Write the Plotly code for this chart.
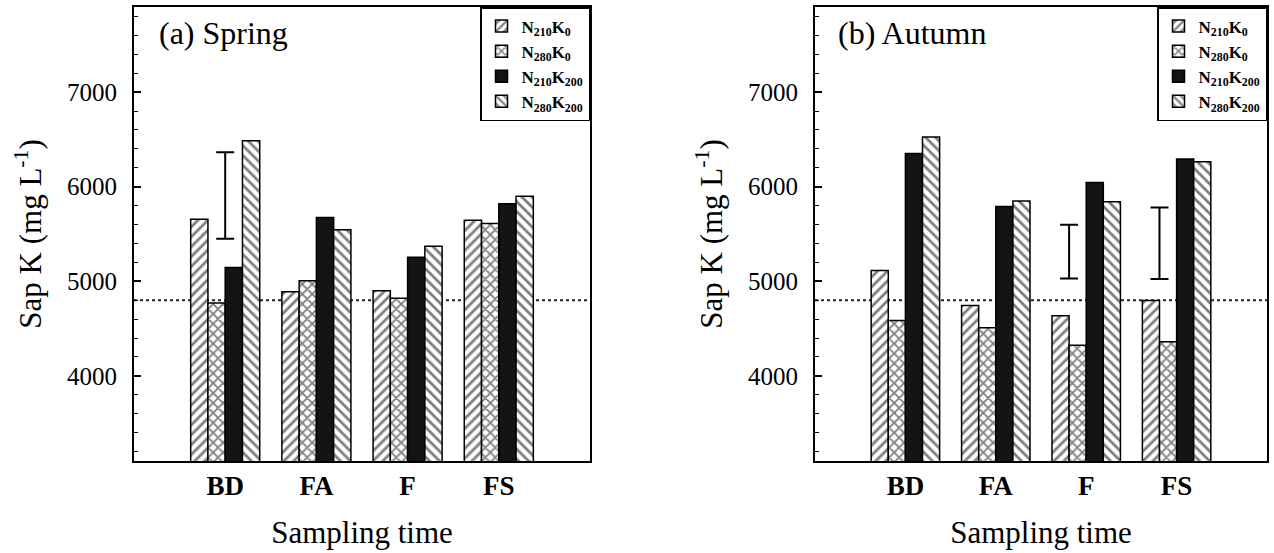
import plotly.graph_objects as go

# ---------------- data ----------------
categories = ["BD", "FA", "F", "FS"]
series_names = [
    "N<sub>210</sub>K<sub>0</sub>",
    "N<sub>280</sub>K<sub>0</sub>",
    "N<sub>210</sub>K<sub>200</sub>",
    "N<sub>280</sub>K<sub>200</sub>",
]

spring_n210k0 = [5655, 4890, 4900, 5645]
spring_n280k0 = [4770, 5005, 4820, 5610]
spring_n210k200 = [5145, 5675, 5255, 5820]
spring_n280k200 = [6485, 5545, 5370, 5900]

autumn_n210k0 = [5115, 4745, 4637, 4797]
autumn_n280k0 = [4585, 4508, 4323, 4360]
autumn_n210k200 = [6350, 5790, 6045, 6292]
autumn_n280k200 = [6525, 5850, 5842, 6265]

# LSD bars (category, low, high)
spring_lsd_cat = ["BD"]
spring_lsd_low = [5450]
spring_lsd_high = [6365]
autumn_lsd_cat = ["F", "FS"]
autumn_lsd_low = [5030, 5024]
autumn_lsd_high = [5597, 5779]

reference_level = 4800

y_range = [3100, 7900]
y_tick_step = 1000
y_minor_step = 200

# ---------------- styling ----------------
FONT = "Liberation Serif"
pattern_shapes = ["/", "x", "", "\\"]
pattern_solidity = [0.4, 0.45, 0, 0.4]
solid_colors = ["white", "white", "#141414", "white"]
bargap = 0.243
bar_w = (1 - bargap) / 4

pos = [i + 1 for i in range(len(categories))]
cat_pos = {c: p for c, p in zip(categories, pos)}

panels = [
    dict(xa="x", ya="y", legend="legend",
         data=[spring_n210k0, spring_n280k0, spring_n210k200, spring_n280k200],
         lsd=(spring_lsd_cat, spring_lsd_low, spring_lsd_high), lsd_shift=0.0,
         label="(a) Spring"),
    dict(xa="x2", ya="y2", legend="legend2",
         data=[autumn_n210k0, autumn_n280k0, autumn_n210k200, autumn_n280k200],
         lsd=(autumn_lsd_cat, autumn_lsd_low, autumn_lsd_high), lsd_shift=-bar_w,
         label="(b) Autumn"),
]

fig = go.Figure()
for p in panels:
    for i, (nm, vals) in enumerate(zip(series_names, p["data"])):
        marker = dict(color=solid_colors[i], line=dict(color="black", width=1.5))
        if pattern_shapes[i]:
            marker["pattern"] = dict(shape=pattern_shapes[i], fgcolor="black",
                                     bgcolor="white", size=7,
                                     solidity=pattern_solidity[i])
        fig.add_trace(go.Bar(
            x=pos, y=vals, name=nm, marker=marker,
            xaxis=p["xa"], yaxis=p["ya"], legend=p["legend"],
            offsetgroup=str(i),
        ))
    cats, lo, hi = p["lsd"]
    xs = [cat_pos[c] + p["lsd_shift"] for c in cats]
    mids = [(a + b) / 2 for a, b in zip(lo, hi)]
    half = [(b - a) / 2 for a, b in zip(lo, hi)]
    fig.add_trace(go.Scatter(
        x=xs, y=mids, mode="markers",
        marker=dict(size=1, color="rgba(0,0,0,0)"),
        error_y=dict(type="data", array=half, symmetric=True,
                     color="black", thickness=2, width=9),
        xaxis=p["xa"], yaxis=p["ya"], showlegend=False, hoverinfo="skip",
    ))

L, R, T, B = 134, 7, 7, 92
W, H = 1274, 553
plot_w = W - L - R
d1 = (590 - L) / plot_w
d2 = (815 - L) / plot_w

def xaxis_cfg(domain, anchor):
    return dict(
        domain=domain, anchor=anchor, range=[0, 5], automargin=False,
        tickvals=pos, ticktext=categories, ticks="",
        showline=True, mirror=True, linecolor="black", linewidth=2,
        showgrid=False, zeroline=False,
        tickfont=dict(family=FONT, size=27, color="black", weight="bold"),
        ticklabelstandoff=0,
        title=dict(text="Sampling time", font=dict(family=FONT, size=31, color="black"),
                   standoff=21),
    )

def yaxis_cfg(anchor):
    return dict(
        domain=[0, 1], anchor=anchor, range=y_range, automargin=False,
        dtick=y_tick_step, tick0=0, ticks="inside", ticklen=7, tickwidth=1.5,
        tickcolor="black",
        minor=dict(ticks="inside", dtick=y_minor_step, tick0=0, ticklen=4,
                   tickwidth=1.2, tickcolor="black"),
        showline=True, mirror=True, linecolor="black", linewidth=2,
        showgrid=False, zeroline=False,
        tickfont=dict(family=FONT, size=25, color="black"),
        ticklabelstandoff=10,
        title=dict(text="Sap K (mg L<sup>-1</sup>)",
                   font=dict(family=FONT, size=31, color="black"), standoff=16),
    )

shapes = []
for xa, ya in [("x", "y"), ("x2", "y2")]:
    shapes.append(dict(type="line", xref=f"{xa} domain", yref=ya,
                       x0=0, x1=1, y0=reference_level, y1=reference_level,
                       line=dict(color="#222", width=2, dash="dot"), layer="below"))

annotations = []
for p, xoff in zip(panels, [0.05, 0.046]):
    annotations.append(dict(
        text=p["label"], xref=f"{p['xa']} domain", yref=f"{p['ya']} domain",
        x=xoff, y=0.943, xanchor="left", yanchor="middle", showarrow=False,
        font=dict(family=FONT, size=32, color="black"),
    ))

legend_common = dict(
    y=1, yanchor="top", xanchor="right", bgcolor="white",
    bordercolor="black", borderwidth=1.5,
    font=dict(family=FONT, size=17, color="black", weight="bold"),
    itemclick=False, itemdoubleclick=False,
)

fig.update_layout(
    width=W, height=H,
    margin=dict(l=L, r=R, t=T, b=B, autoexpand=False),
    paper_bgcolor="white", plot_bgcolor="white",
    barmode="group", bargap=bargap, bargroupgap=0,
    xaxis=xaxis_cfg([0, d1], "y"),
    yaxis=yaxis_cfg("x"),
    xaxis2=xaxis_cfg([d2, 1], "y2"),
    yaxis2=yaxis_cfg("x2"),
    legend=dict(x=d1, **legend_common),
    legend2=dict(x=1, **legend_common),
    shapes=shapes, annotations=annotations,
    font=dict(family=FONT, color="black"),
)

fig.write_html("out.html", config={"displayModeBar": False},
               post_script="document.body.style.margin='0px';document.body.style.overflow='hidden';")
